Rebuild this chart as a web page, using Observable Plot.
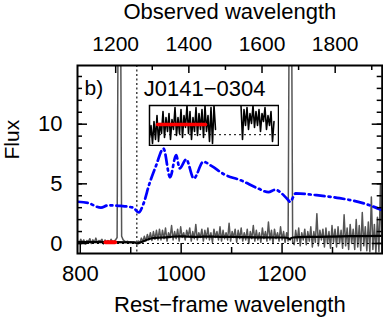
<!DOCTYPE html>
<html><head><meta charset="utf-8">
<script src="https://cdn.jsdelivr.net/npm/d3@7"></script>
<script src="https://cdn.jsdelivr.net/npm/@observablehq/plot@0.6"></script>
<style>
body{margin:0;background:#fff}
#wrap{position:relative;width:383px;height:318px}
#wrap>svg,#wrap>figure{position:absolute;margin:0}
</style>
</head><body><div id="wrap"></div>
<script>
// ---------- data ----------
const specStart = 795, specStep = 3;           // rest-frame sampling of the observed spectrum
const specFlux = [
 0.2,0.05,0.35,0.1,0.3,-0.05,0.25,0.15,0.4,0.0,0.3,0.1,0.45,0.05,0.25,0.2,0.35,-0.05,0.3,0.1,0.25,0.05,0.35,0.15,0.2,0.3,
 0.5,28,28,0.6,
 0.3,0.2,0.15,0.18,0.12,0.15,0.1,0.12,0.08,
 0.0,
 0.2,0.05,0.45,0.15,0.6,0.2,0.75,0.3,0.9,0.25,1.0,0.35,1.1,0.3,1.2,
 0.3,1.1,0.4,1.3,0.2,0.9,0.5,1.5,0.3,1.0,
 0.4,1.2,0.2,1.4,0.5,0.9,0.3,1.1,0.6,1.3,
 0.2,1.0,0.4,1.6,0.3,0.9,0.5,1.2,0.2,1.1,
 0.4,1.3,0.3,0.9,0.1,1.2,0.5,1.0,0.3,1.4,
 0.2,1.1,0.4,0.9,0.3,1.7,0.2,1.0,0.5,1.2,
 0.1,1.1,0.4,1.3,0.2,0.9,0.3,1.2,0.0,1.0,
 0.4,1.5,0.2,1.1,0.3,0.9,0.1,1.3,0.4,1.0,
 0.2,1.8,0.3,1.1,0.0,1.2,0.4,0.9,0.2,1.4,
 0.3,1.0,0.1,0.9,
 0.2,28,28,0.1,
 -0.1,1.1,0.2,1.3,-0.2,0.9,0.3,1.2,-0.1,1.0,
 0.2,1.4,-0.3,1.0,0.1,2.5,-0.2,1.1,0.3,1.2,
 -0.3,1.3,0.0,1.0,-0.4,1.5,0.1,1.2,-0.3,1.4,
 0.0,1.1,-0.4,2.4,-0.2,1.3,-0.5,1.6,0.0,1.2,
 -0.5,2.0,-0.3,1.5,-0.6,2.6,-0.2,1.4,-0.6,1.8,
 -0.7,3.9,-0.5,1.6,-0.8,2.2,-0.7,4.9,-0.7,2.0,4.5
];
const modelWave = [795,850,905,912,920,940,960,980,1000,1030,1060,1100,1150,1200,1212,1216,1222,1260,1300,1350,1398];
const modelFlux = [0.12,0.12,0.1,0.0,0.1,0.42,0.5,0.56,0.6,0.56,0.58,0.55,0.52,0.5,0.45,0.33,0.5,0.55,0.58,0.62,0.64];
const templateWave = [795,815,841,855,880,905,916,925,937,950,965,978,990,997,1010,1025,1044,1060,1085,1118,1153,1173,1186,1209,1216,1227,1268,1314,1369,1398];
const templateFlux = [3.5,3.4,3.0,3.2,3.15,3.0,2.6,3.3,5.0,6.5,7.95,5.55,7.4,6.3,7.05,5.45,6.85,6.5,5.8,5.3,4.6,4.3,4.5,3.8,3.5,4.2,4.05,3.8,3.27,2.8];
const redWave = [850, 869], redFlux = [0.1, 0.1];
const lymanLimit = 912;
const zFactor = 1.379;                           // observed / rest
const restMajor = [800, 1000, 1200], restMinor = [900, 1100, 1300];
const obsMajor = [1200, 1400, 1600, 1800], obsMinor = [1300, 1500, 1700, 1900];
const fluxMajor = [0, 5, 10];
const fluxMinor = [0,1,2,3,4,5,6,7,8,9,10,11,12,13,14];
// inset (zoomed view)
const insetStep = 1.5;
const insetFlux = [
 0.2,0.5,0.05,0.6,0.15,0.75,0.1,0.55,0.3,0.85,
 0.2,0.7,0.35,0.8,0.15,0.65,0.4,0.95,0.25,0.7,
 0.3,0.9,0.2,0.75,0.45,1.0,0.3,0.85,0.15,0.7,
 0.35,0.95,0.25,0.8,0.4,
 0.9,0.2,1.0,0.35,0.75,0.1,0.95,0.05,1.0,0.4,
 null,null,null,null,null,null,null,null,null,null,null,null,null,null,null,null,
 1.0,0.15,0.9,0.5,0.95,0.4,0.8,0.55,1.0,0.45,0.85,0.5,0.9,0.35,0.8,0.6,0.95,0.4,0.75,0.5,0.85,0.1,0.6
];
const insetRedX = [8, 56], insetRedY = 0.525, insetZero = 0.27;

// ---------- tables ----------
const spec = specFlux.map((f, i) => ({w: specStart + specStep * i, f}));
const model = modelWave.map((w, i) => ({w, f: modelFlux[i]}));
const templ = templateWave.map((w, i) => ({w, f: templateFlux[i]}));
const red = redWave.map((w, i) => ({w, f: redFlux[i]}));
const inset = insetFlux.map((f, i) => ({x: insetStep * i, f}));

const ML = 77, MR = 1.3, MT = 65, MB = 65, WIDTH = 383, HEIGHT = 318;
const W = WIDTH - ML - MR, H = HEIGHT - MT - MB;
const font = "Liberation Sans, Arial, sans-serif";

const main = Plot.plot({
  width: WIDTH, height: HEIGHT,
  marginLeft: ML, marginRight: MR, marginTop: MT, marginBottom: MB,
  x: {domain: [794.5, 1398.5]},
  y: {domain: [-0.84, 14.92]},
  style: {fontFamily: font, fontSize: "22px", color: "black", background: "white"},
  marks: [
    Plot.line(spec, {x: "w", y: "f", stroke: "#555", strokeWidth: 1.5, clip: true}),
    Plot.line(model, {x: "w", y: "f", stroke: "black", strokeWidth: 2.2, curve: "natural", clip: true}),
    Plot.ruleY([0], {stroke: "black", strokeWidth: 1, strokeDasharray: "2,3"}),
    Plot.ruleX([lymanLimit], {stroke: "#444", strokeWidth: 1.5, strokeDasharray: "2,2.5"}),
    Plot.line(templ, {x: "w", y: "f", stroke: "#0000ff", strokeWidth: 2.7, strokeDasharray: "10,4,2,4", curve: "monotone-x", clip: true}),
    Plot.line(red, {x: "w", y: "f", stroke: "#ff0000", strokeWidth: 4}),
    // inward ticks
    Plot.tickX(restMajor, {x: d => d, insetTop: H - 10, stroke: "black", strokeWidth: 1.5}),
    Plot.tickX(restMinor, {x: d => d, insetTop: H - 6, stroke: "black", strokeWidth: 1.5}),
    Plot.tickX(obsMajor, {x: d => d / zFactor, insetBottom: H - 8, stroke: "black", strokeWidth: 1.5}),
    Plot.tickX(obsMinor, {x: d => d / zFactor, insetBottom: H - 5, stroke: "black", strokeWidth: 1.5}),
    Plot.tickY(fluxMajor, {y: d => d, insetRight: W - 10, stroke: "black", strokeWidth: 1.5}),
    Plot.tickY(fluxMinor, {y: d => d, insetRight: W - 5, stroke: "black", strokeWidth: 1.5}),
    Plot.tickY(fluxMajor, {y: d => d, insetLeft: W - 10, stroke: "black", strokeWidth: 1.5}),
    Plot.tickY(fluxMinor, {y: d => d, insetLeft: W - 5, stroke: "black", strokeWidth: 1.5}),
    // tick labels
    Plot.axisX(restMajor, {anchor: "bottom", tickSize: 0, tickPadding: 12, label: null, fontSize: 22, tickFormat: d => String(d)}),
    Plot.axisX(obsMajor.map(o => o / zFactor), {anchor: "top", tickSize: 0, tickPadding: 15, label: null, fontSize: 21, tickFormat: d => String(Math.round(d * zFactor))}),
    Plot.axisY(fluxMajor, {anchor: "left", tickSize: 0, tickPadding: 15, label: null, fontSize: 22, tickFormat: d => String(d)}),
    // titles
    Plot.text(["Observed wavelength"], {text: d => d, frameAnchor: "top", dy: -53.5, lineAnchor: "middle", fontSize: 22}),
    Plot.text(["Rest\u2212frame wavelength"], {text: d => d, frameAnchor: "bottom", dy: 51.4, lineAnchor: "middle", fontSize: 22}),
    Plot.text(["Flux"], {text: d => d, frameAnchor: "left", dx: -65.7, rotate: -90, lineAnchor: "middle", fontSize: 21}),
    Plot.text(["b)"], {text: d => d, frameAnchor: "top-left", dx: 7, dy: 15, textAnchor: "start", lineAnchor: "top", fontSize: 21}),
    Plot.text(["J0141\u22120304"], {text: d => d, frameAnchor: "top-left", dx: 66.3, dy: 14.5, textAnchor: "start", lineAnchor: "top", fontSize: 22}),
    Plot.frame({stroke: "black", strokeWidth: 2})
  ]
});

const insetPlot = Plot.plot({
  width: 131, height: 42,
  marginLeft: 1, marginRight: 1, marginTop: 1, marginBottom: 1,
  x: {domain: [0, 129], axis: null},
  y: {domain: [0, 1], axis: null},
  style: {background: "white"},
  marks: [
    Plot.ruleY([insetZero], {stroke: "black", strokeWidth: 1, strokeDasharray: "2,3"}),
    Plot.line(inset, {x: "x", y: "f", stroke: "black", strokeWidth: 1.6, clip: true}),
    Plot.line(insetRedX.map(x => ({x, f: insetRedY})), {x: "x", y: "f", stroke: "#ff0000", strokeWidth: 3.5}),
    Plot.frame({stroke: "black", strokeWidth: 1.5})
  ]
});

const wrap = document.getElementById("wrap");
main.style.left = "0px"; main.style.top = "0px";
insetPlot.style.left = "148px"; insetPlot.style.top = "104px";
wrap.appendChild(main);
wrap.appendChild(insetPlot);
</script>
</body></html>
